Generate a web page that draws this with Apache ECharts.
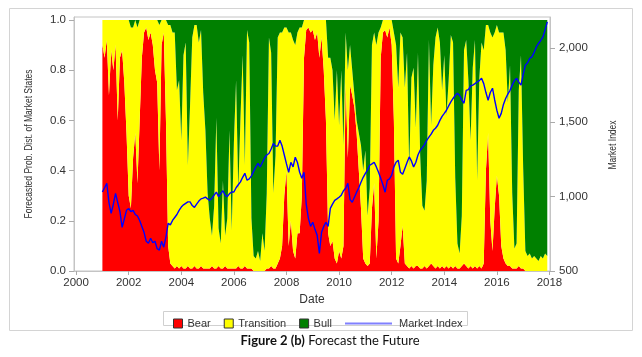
<!DOCTYPE html>
<html>
<head>
<meta charset="utf-8">
<script src="https://cdn.jsdelivr.net/npm/echarts@6/dist/echarts.min.js"></script>
<style>
html,body{margin:0;padding:0;background:#fff;}
#c{width:642px;height:357px;}
</style>
</head>
<body>
<div id="c"></div>
<script>
// Monthly samples, Jan 2001 .. Dec 2017
const startYear = 2001;
const monthsPerYear = 12;
const xTicks = [2000, 2002, 2004, 2006, 2008, 2010, 2012, 2014, 2016, 2018];
const probTicks = [0, 0.2, 0.4, 0.6, 0.8, 1.0];
const indexTicks = [500, 1000, 1500, 2000];

const bear = [
.90,.85,.92,.70,.88,.80,.90,.60,.85,.88,.75,.55,
.30,.25,.45,.55,.35,.60,.85,.95,.97,.92,.95,.90,
.80,.75,.40,.90,.95,.60,.10,.03,.02,.01,.02,.01,
.02,.01,.01,.02,.01,.01,.02,.01,.01,.02,.01,.01,
.01,.01,.02,.01,.01,.02,.01,.01,.02,.01,.01,.01,
.01,.01,.02,.01,.01,.02,.01,.01,.01,0,0,0,
0,0,0,.01,.01,.02,.01,.01,.03,.05,.10,.30,
.40,.10,.20,.08,.05,.15,.15,.30,.85,.96,.97,.95,
.96,.92,.95,.85,.93,.80,.60,.15,.10,.12,.05,.03,
.08,.05,.10,.75,.45,.74,.70,.65,.55,.40,.25,.05,
.03,.02,.03,.25,.35,.05,.20,.85,.95,.96,.93,.97,
.90,.60,.05,.03,.10,.18,.03,.02,.01,.02,.01,.02,
.02,.01,.01,.02,.01,.02,.03,.02,.01,.02,.01,.02,
.01,.02,.01,.02,.01,.02,.01,.01,.02,.03,.02,.01,
.02,.01,.02,.01,.02,.01,.03,.40,.55,.20,.08,.25,
.38,.30,.10,.05,.03,.02,.02,.01,.01,.01,.02,.01,
.01,0,0,0,0,0,0,0,0,0,0,0];

const transition = [
.10,.15,.08,.30,.12,.20,.10,.40,.15,.12,.25,.45,
.70,.72,.52,.45,.62,.40,.15,.05,.03,.08,.05,.10,
.20,.25,.58,.10,.05,.40,.88,.95,.93,.94,.70,.75,
.50,.85,.90,.40,.65,.92,.96,.97,.90,.94,.70,.55,
.30,.20,.12,.25,.60,.15,.10,.35,.12,.20,.55,.15,
.50,.75,.30,.60,.85,.40,.95,.90,.20,.06,.05,.08,
.04,.15,.08,.30,.92,.85,.30,.45,.90,.90,.85,.67,
.57,.85,.75,.84,.85,.80,.82,.67,.15,.04,.03,.05,
.04,.08,.05,.15,.07,.20,.40,.70,.75,.68,.55,.77,
.50,.75,.40,.20,.35,.16,.10,.05,.05,.15,.25,.35,
.45,.20,.30,.65,.60,.85,.75,.12,.05,.04,.07,.03,
.10,.35,.85,.70,.85,.75,.70,.85,.40,.75,.80,.55,
.85,.45,.25,.22,.35,.90,.55,.80,.92,.95,.90,.70,
.85,.60,.75,.92,.90,.35,.10,.06,.20,.85,.90,.75,
.50,.80,.90,.35,.75,.90,.85,.58,.43,.75,.85,.70,
.60,.65,.85,.90,.85,.65,.80,.30,.08,.10,.70,.85,
.40,.08,.06,.07,.05,.06,.05,.04,.06,.05,.07,.06];

const bull = [
0,0,0,0,0,0,0,0,0,0,0,0,
0,.03,.03,0,.03,0,0,0,0,0,0,0,
0,0,.02,0,0,0,.02,.02,.05,.05,.28,.24,
.48,.14,.09,.58,.34,.07,.02,.02,.09,.04,.29,.44,
.69,.79,.86,.74,.39,.83,.89,.64,.86,.79,.44,.84,
.49,.24,.68,.39,.14,.58,.04,.09,.79,.94,.95,.92,
.96,.85,.92,.69,.07,.13,.69,.54,.07,.05,.05,.03,
.03,.05,.05,.08,.10,.05,.03,.03,0,0,0,0,
0,0,0,0,0,0,0,.15,.15,.20,.40,.20,
.42,.20,.50,.05,.20,.10,.20,.30,.40,.45,.50,.60,
.52,.78,.67,.10,.05,.10,.05,.03,0,0,0,0,
0,.05,.10,.27,.05,.07,.27,.13,.59,.23,.19,.43,
.13,.54,.74,.76,.64,.08,.42,.18,.07,.03,.09,.28,
.14,.38,.24,.06,.09,.63,.89,.93,.78,.12,.08,.24,
.48,.19,.08,.64,.23,.09,.12,.02,.02,.05,.07,.05,
.02,.05,.05,.05,.12,.33,.18,.69,.91,.89,.28,.14,
.59,.92,.94,.93,.95,.94,.95,.96,.94,.95,.93,.94];

const marketIndex = [
1031,1060,1090,960,888,950,1022,960,900,794,850,908,
920,900,908,880,870,840,800,760,700,686,720,690,
700,650,640,700,660,730,820,810,840,860,880,908,
930,945,955,965,965,940,928,950,970,985,990,997,
985,975,990,1010,1031,1000,1020,1040,1010,1000,1020,1031,
1031,1060,1080,1099,1130,1157,1110,1120,1140,1170,1200,1224,
1200,1230,1260,1280,1290,1320,1358,1340,1340,1379,1340,1280,
1220,1164,1231,1200,1265,1230,1164,1123,1164,950,854,800,
828,780,740,619,760,800,828,800,921,950,975,985,
996,1010,1040,1056,1090,980,962,996,1030,1060,1097,1130,
1157,1180,1211,1220,1231,1200,1164,1123,1080,1030,1110,1120,
1144,1200,1231,1245,1164,1150,1190,1230,1267,1240,1200,1230,
1280,1312,1330,1350,1379,1400,1420,1446,1460,1480,1513,1540,
1560,1581,1610,1637,1660,1680,1695,1680,1650,1628,1715,1720,
1745,1750,1760,1771,1780,1796,1760,1700,1648,1700,1729,1650,
1580,1527,1560,1620,1660,1690,1715,1750,1780,1796,1770,1750,
1820,1884,1900,1930,1940,1970,2007,2030,2050,2074,2120,2175];

const dates = bear.map((_, i) => startYear + i / monthsPerYear);
// value first, date second: the stacked dimension is the probability (y)
const stackPairs = arr => arr.map((v, i) => [v, dates[i]]);
const pairs = arr => arr.map((v, i) => [dates[i], v]);

const chart = echarts.init(document.getElementById('c'), null, {renderer: 'canvas'});
const labelFont = {fontFamily: '"Liberation Sans", Arial, sans-serif', fontSize: 11.5, color: '#333'};

function areaSeries(name, arr, color) {
  return {
    name, type: 'line', stack: 'prob', data: stackPairs(arr),
    encode: {x: 1, y: 0},
    symbol: 'none', showSymbol: false,
    lineStyle: {width: 0, color},
    itemStyle: {color},
    areaStyle: {color, opacity: 1},
    emphasis: {disabled: true},
    z: 2
  };
}

chart.setOption({
  animation: false,
  backgroundColor: '#fff',
  grid: {left: 74, right: 92, top: 17, bottom: 86, show: true, borderColor: '#c4c4c4', borderWidth: 1, backgroundColor: '#fff'},
  xAxis: {
    type: 'value', min: 1999.92, max: 2018.02,
    name: 'Date', nameLocation: 'middle', nameGap: 21,
    nameTextStyle: {fontFamily: '"Liberation Sans", Arial, sans-serif', fontSize: 12, color: '#333'},
    axisLine: {show: true, lineStyle: {color: '#c4c4c4'}},
    axisTick: {show: true, length: 4, lineStyle: {color: '#aaa'}, customValues: xTicks},
    axisLabel: Object.assign({margin: 6, customValues: xTicks, formatter: v => String(Math.round(v))}, labelFont),
    splitLine: {show: false}
  },
  yAxis: [
    {
      type: 'value', min: 0, max: 1.012, position: 'left',
      axisLine: {show: true, lineStyle: {color: '#c4c4c4'}},
      axisTick: {show: true, length: 5, lineStyle: {color: '#aaa'}, customValues: probTicks},
      axisLabel: Object.assign({margin: 8, customValues: probTicks, formatter: v => v.toFixed(1)}, labelFont),
      splitLine: {show: false}
    },
    {
      type: 'value', min: 500, max: 2208, position: 'right',
      axisLine: {show: true, lineStyle: {color: '#c4c4c4'}},
      axisTick: {show: true, length: 5, lineStyle: {color: '#aaa'}, customValues: indexTicks},
      axisLabel: Object.assign({margin: 9, customValues: indexTicks}, labelFont),
      splitLine: {show: false}
    }
  ],
  legend: [
    {
      data: ['Bear', 'Transition', 'Bull'],
      left: 168, top: 313, itemWidth: 9, itemHeight: 9, itemGap: 13,
      icon: 'rect', selectedMode: false,
      itemStyle: {borderColor: '#333', borderWidth: 1},
      textStyle: {fontFamily: '"Liberation Sans", Arial, sans-serif', fontSize: 11, color: '#333'}
    },
    {
      data: ['Market Index'],
      left: 340, top: 313, itemWidth: 47, itemHeight: 2, icon: 'rect', selectedMode: false,
      itemStyle: {color: '#8080ff', borderWidth: 0},
      textStyle: {fontFamily: '"Liberation Sans", Arial, sans-serif', fontSize: 11, color: '#333', padding: [0, 0, 0, 2]}
    }
  ],
  graphic: [
    {type: 'rect', shape: {x: 9.5, y: 8.5, width: 623, height: 322}, style: {fill: 'none', stroke: '#d4d4d4', lineWidth: 1}, silent: true, z: -10},
    {type: 'rect', shape: {x: 163.5, y: 311.5, width: 304, height: 14}, style: {fill: 'none', stroke: '#d0d0d0', lineWidth: 1}, silent: true},
    {type: 'text', x: 29, y: 144, rotation: Math.PI / 2, scaleX: 0.74,
     style: {text: 'Forecasted Prob. Dist. of Market States', font: '11.5px "Liberation Sans", Arial, sans-serif', fill: '#333', align: 'center', verticalAlign: 'middle'}},
    {type: 'text', x: 613, y: 145, rotation: Math.PI / 2, scaleX: 0.74,
     style: {text: 'Market Index', font: '11.5px "Liberation Sans", Arial, sans-serif', fill: '#333', align: 'center', verticalAlign: 'middle'}},
    {type: 'text', x: 330, y: 341,
     style: {
       text: '{b|Figure 2 (b)} {n|Forecast the Future}',
       align: 'center', verticalAlign: 'middle',
       rich: {
         b: {font: 'bold 13px Lato, "Liberation Sans", sans-serif', fill: '#111'},
         n: {font: '13px Lato, "Liberation Sans", sans-serif', fill: '#111'}
       }
     }}
  ],
  series: [
    areaSeries('Bear', bear, '#ff0000'),
    areaSeries('Transition', transition, '#ffff00'),
    areaSeries('Bull', bull, '#008000'),
    {
      name: 'Market Index', type: 'line', yAxisIndex: 1, data: pairs(marketIndex),
      symbol: 'none', showSymbol: false,
      lineStyle: {width: 1.4, color: '#0000ff'},
      itemStyle: {color: '#0000ff'},
      emphasis: {disabled: true},
      z: 5
    }
  ]
});
</script>
</body>
</html>
